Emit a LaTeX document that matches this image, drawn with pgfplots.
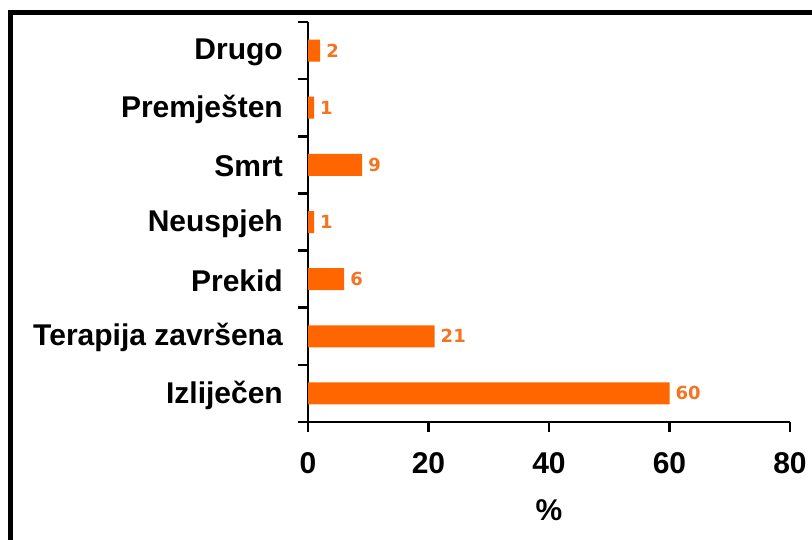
\documentclass[border=0pt]{standalone}
\usepackage{pgfplots}
\pgfplotsset{compat=1.18}
\usepackage{fontspec}
\setmainfont{Liberation Sans}
\newfontfamily\valfont{DejaVu Sans}
\definecolor{barorange}{HTML}{FF6600}
\definecolor{valorange}{HTML}{F47422}
\begin{document}
\begin{tikzpicture}
\useasboundingbox (0,0) rectangle (812bp,540bp);
\fill[white] (0,0) rectangle (812bp,540bp);
\draw[line width=5bp] (10.5bp,-5bp) -- (10.5bp,527.5bp) -- (820bp,527.5bp);
\begin{axis}[
  at={(308bp,118bp)}, anchor=south west,
  scale only axis, width=482bp, height=400bp,
  xbar, bar width=22bp,
  xmin=0, xmax=80, ymin=-0.5, ymax=6.5,
  axis x line=bottom, axis y line=left,
  axis line style={line width=2.5bp, -},
  xtick={0,20,...,80},
  ytick={0,...,6},
  yticklabels={Izliječen, Terapija završena, Prekid, Neuspjeh, Smrt, Premješten, Drugo},
  minor ytick={-0.5,0.5,...,6.5},
  tick align=outside,
  major x tick style={line width=2.5bp, black},
  major y tick style={draw=none},
  minor y tick style={line width=2.5bp, black},
  major tick length=10bp, minor tick length=10bp,
  /pgf/number format/assume math mode=true,
  yticklabel style={font=\bfseries\fontsize{30bp}{31bp}\selectfont, anchor=east, inner sep=0pt, xshift=-15bp, yshift=-1.5bp},
  xticklabel style={font=\bfseries\fontsize{30bp}{31bp}\selectfont, anchor=north, inner sep=0pt, yshift=-20bp},
  xlabel={\%},
  xlabel style={font=\bfseries\fontsize{30bp}{31bp}\selectfont, at={(axis description cs:0.5,0)}, anchor=center, yshift=-88bp},
  nodes near coords,
  nodes near coords style={font=\valfont\bfseries\fontsize{18bp}{19bp}\selectfont, color=valorange, anchor=west, inner sep=0pt, xshift=6bp},
]
\addplot[fill=barorange, draw=none] coordinates {(60,0) (21,1) (6,2) (1,3) (9,4) (1,5) (2,6)};
\end{axis}
\end{tikzpicture}
\end{document}
